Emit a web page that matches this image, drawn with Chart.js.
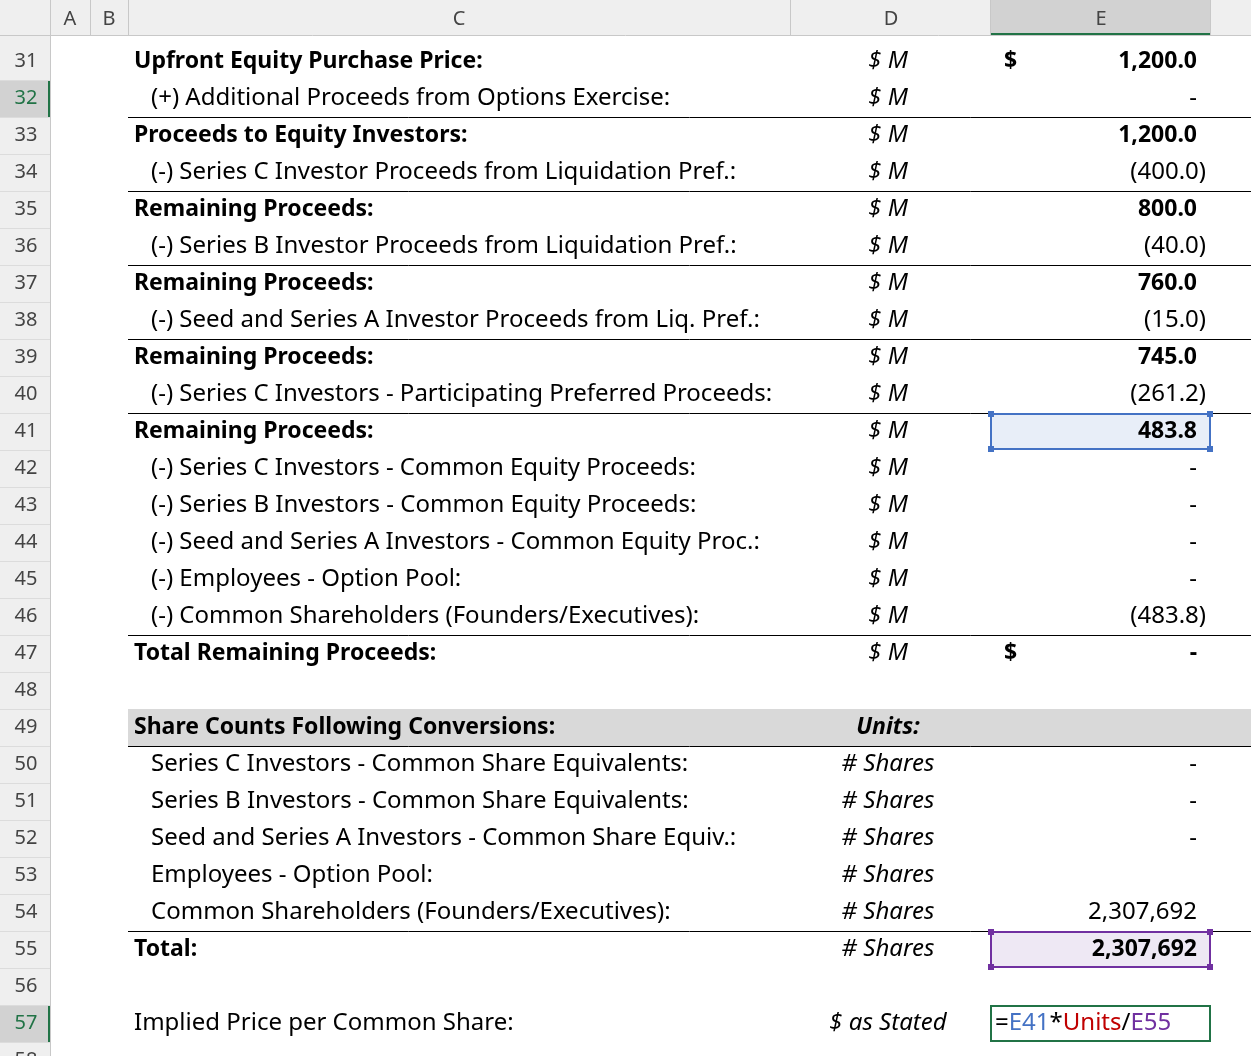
<!DOCTYPE html>
<html><head><meta charset="utf-8">
<script src="https://cdn.jsdelivr.net/npm/chart.js@4"></script>
<style>body{margin:0;background:#fff}canvas{display:block}</style>
</head><body>
<canvas id="sheet" width="1251" height="1056"></canvas>
<script>
// Sheet rows
const rowNums = [31,32,33,34,35,36,37,38,39,40,41,42,43,44,45,46,47,48,49,50,51,52,53,54,55,56,57,58];
const labels = [
  "Upfront Equity Purchase Price:", "(+) Additional Proceeds from Options Exercise:",
  "Proceeds to Equity Investors:", "(-) Series C Investor Proceeds from Liquidation Pref.:",
  "Remaining Proceeds:", "(-) Series B Investor Proceeds from Liquidation Pref.:",
  "Remaining Proceeds:", "(-) Seed and Series A Investor Proceeds from Liq. Pref.:",
  "Remaining Proceeds:", "(-) Series C Investors - Participating Preferred Proceeds:",
  "Remaining Proceeds:", "(-) Series C Investors - Common Equity Proceeds:",
  "(-) Series B Investors - Common Equity Proceeds:", "(-) Seed and Series A Investors - Common Equity Proc.:",
  "(-) Employees - Option Pool:", "(-) Common Shareholders (Founders/Executives):",
  "Total Remaining Proceeds:", "", "Share Counts Following Conversions:",
  "Series C Investors - Common Share Equivalents:", "Series B Investors - Common Share Equivalents:",
  "Seed and Series A Investors - Common Share Equiv.:", "Employees - Option Pool:",
  "Common Shareholders (Founders/Executives):", "Total:", "", "Implied Price per Common Share:", ""
];
const boldRows = [31,33,35,37,39,41,47,49,55];
const indentRows = [32,34,36,38,40,42,43,44,45,46,50,51,52,53,54];
const units = ["$ M","$ M","$ M","$ M","$ M","$ M","$ M","$ M","$ M","$ M","$ M","$ M","$ M","$ M","$ M","$ M","$ M",
  "","Units:","# Shares","# Shares","# Shares","# Shares","# Shares","# Shares","","$ as Stated",""];
// proceeds ($M), rows 31-47
const proceeds = [1200, 0, 1200, -400, 800, -40, 760, -15, 745, -261.2, 483.8, 0, 0, 0, 0, -483.8, 0];
// share counts, rows 50-55; null = blank
const shares = [0, 0, 0, null, 2307692, 2307692];
const dollarRows = [31, 47];
const lineBelow = [32,34,36,38,40,46,49,54];

function fmtM(v){
  if (v === 0) return "-";
  const s = Math.abs(v).toFixed(1).replace(/\B(?=(\d{3})+(?!\d))/g, ",");
  return v < 0 ? "(" + s + ")" : s;
}
function fmtS(v){
  if (v === null) return "";
  if (v === 0) return "-";
  return v.toLocaleString("en-US");
}

const F = "'Noto Sans', sans-serif";
const REG = "24px " + F, BOLD = "bold 23px " + F;
const sheetPlugin = {
  id: "sheet",
  beforeDraw(chart){
    const c = chart.ctx, y = chart.scales.y;
    const H = 37;
    c.save();
    c.fillStyle = "#fff"; c.fillRect(0,0,1251,1056);
    c.fillStyle = "#d9d9d9"; c.fillRect(128, y.getPixelForValue(49)-H/2, 1123, H);
    c.fillStyle = "#e8eef8"; c.fillRect(991, y.getPixelForValue(41)-H/2+1, 219, H-2);
    c.fillStyle = "#eee8f4"; c.fillRect(991, y.getPixelForValue(55)-H/2+1, 219, H-2);
    c.fillStyle = "#efefef"; c.fillRect(0,0,1251,35); c.fillRect(0,0,50,1056);
    c.fillStyle = "#d2d2d2"; c.fillRect(990,0,220,35);
    [32,57].forEach(r => c.fillRect(0, y.getPixelForValue(r)-H/2, 50, H));
    c.strokeStyle = "#217346"; c.lineWidth = 2;
    c.beginPath(); c.moveTo(990,34); c.lineTo(1210,34); c.stroke();
    [32,57].forEach(r => { c.beginPath(); c.moveTo(49, y.getPixelForValue(r)-H/2); c.lineTo(49, y.getPixelForValue(r)+H/2); c.stroke(); });
    c.strokeStyle = "#c8c8c8"; c.lineWidth = 1;
    [50,90,128,790,990,1210].forEach(x => { c.beginPath(); c.moveTo(x+0.5,0); c.lineTo(x+0.5,35); c.stroke(); });
    c.beginPath(); c.moveTo(0,35.5); c.lineTo(1251,35.5); c.moveTo(50.5,0); c.lineTo(50.5,1056); c.stroke();
    c.fillStyle = "#444"; c.font = "20px " + F; c.textAlign = "center"; c.textBaseline = "middle";
    [["A",70],["B",109],["C",459],["D",891],["E",1101]].forEach(([t,x]) => c.fillText(t, x, 19));
    rowNums.forEach(r => {
      const py = y.getPixelForValue(r);
      c.fillStyle = (r === 32 || r === 57) ? "#217346" : "#444";
      c.fillText(String(r), 26, py);
      c.strokeStyle = "#dcdcdc"; c.beginPath(); c.moveTo(0, py+H/2+0.5); c.lineTo(50, py+H/2+0.5); c.stroke();
    });
    c.restore();
  },
  afterDraw(chart){
    const c = chart.ctx, y = chart.scales.y;
    const H = 37;
    c.save();
    c.textBaseline = "middle";
    c.strokeStyle = "#000"; c.lineWidth = 1;
    lineBelow.forEach(r => { const py = Math.round(y.getPixelForValue(r)+H/2)+0.5; c.beginPath(); c.moveTo(128,py); c.lineTo(1251,py); c.stroke(); });
    rowNums.forEach((r, i) => {
      const py = y.getPixelForValue(r);
      const bold = boldRows.includes(r);
      c.fillStyle = "#000";
      c.textAlign = "left";
      c.font = bold ? BOLD : REG;
      c.fillText(labels[i], indentRows.includes(r) ? 151 : 134, py);
      c.textAlign = "center";
      c.font = "italic " + (r === 49 ? "bold 23px " + F : REG);
      c.fillText(units[i], 888, py);
      if (dollarRows.includes(r)) { c.font = BOLD; c.textAlign = "left"; c.fillText("$", 1004, py); }
      let txt = null;
      if (r <= 47) txt = fmtM(proceeds[r-31]);
      else if (r >= 50 && r <= 55) txt = fmtS(shares[r-50]);
      if (txt) {
        c.font = bold ? BOLD : REG;
        c.textAlign = "right";
        c.fillText(txt, txt.endsWith(")") ? 1206 : 1197, py);
      }
    });
    const box = (r, col) => { const py = y.getPixelForValue(r); c.strokeStyle = col; c.lineWidth = 2; c.strokeRect(991, py-H/2+1, 219, H-2);
      c.fillStyle = col; [[991,py-H/2+1],[1210,py-H/2+1],[991,py+H/2-1],[1210,py+H/2-1]].forEach(([a,b]) => c.fillRect(a-3,b-3,6,6)); };
    box(41, "#4472c4"); box(55, "#7030a0");
    const py57 = y.getPixelForValue(57);
    c.strokeStyle = "#217346"; c.lineWidth = 2; c.strokeRect(991, py57-H/2+1, 219, H-2);
    c.font = REG; c.textAlign = "left";
    let x = 995;
    [["=","#000"],["E41","#4472c4"],["*","#000"],["Units","#c00000"],["/","#000"],["E55","#7030a0"]].forEach(([t,col]) => { c.fillStyle = col; c.fillText(t, x, py57); x += c.measureText(t).width; });
    c.restore();
  }
};

new Chart(document.getElementById("sheet"), {
  type: "scatter",
  data: { datasets: [{ data: [] }] },
  options: {
    responsive: false, animation: false, devicePixelRatio: 1,
    layout: { padding: { top: 43, left: 0, right: 0, bottom: 0 } },
    plugins: { legend: { display: false }, tooltip: { enabled: false } },
    scales: {
      x: { display: false, min: 0, max: 1 },
      y: { display: false, reverse: true, min: 30.5, max: 30.5 + (1056 - 43) / 37 }
    }
  },
  plugins: [sheetPlugin]
});
</script>
</body></html>
